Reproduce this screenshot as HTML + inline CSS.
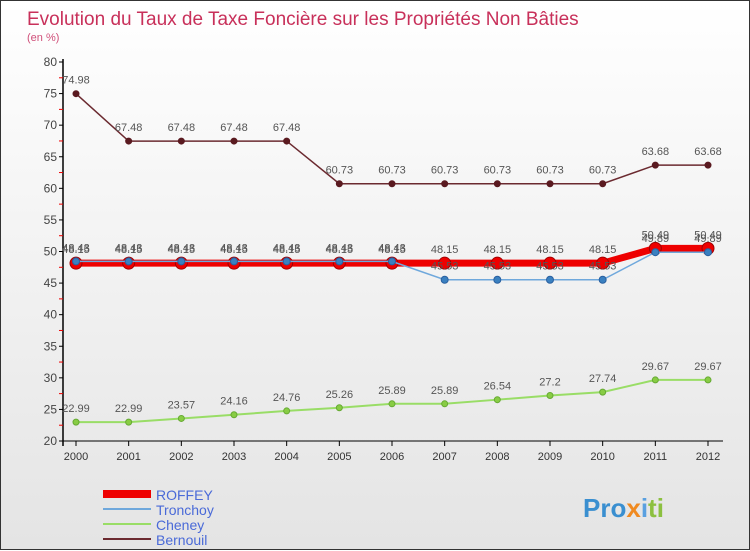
<!DOCTYPE html>
<html><head><meta charset="utf-8"><style>
body{margin:0}
#c{width:750px;height:550px;position:relative;background:linear-gradient(#fff,#e4e4e4);font-family:"Liberation Sans",sans-serif;box-sizing:border-box;border:1px solid #333}
</style></head><body>
<div id="c">
<svg id="s" width="750" height="550" style="position:absolute;left:0;top:0">
<text x="26" y="24" font-size="19" fill="#c8305a">Evolution du Taux de Taxe Foncière sur les Propriétés Non Bâties</text>
<text x="26" y="40" font-size="11" fill="#d0507a">(en %)</text>
<text x="582" y="516" font-size="26" font-weight="bold" fill="#3a8fd0">Pro<tspan fill="#f08a20">x</tspan><tspan fill="#5aa0e0">i</tspan><tspan fill="#8cc040">ti</tspan></text>
</svg>
</div>
<script>
const years=[2000,2001,2002,2003,2004,2005,2006,2007,2008,2009,2010,2011,2012];
const yTicks=[20,25,30,35,40,45,50,55,60,65,70,75,80];
const roffey=[48.15,48.15,48.15,48.15,48.15,48.15,48.15,48.15,48.15,48.15,48.15,50.49,50.49];
const tronchoy=[48.43,48.43,48.43,48.43,48.43,48.43,48.43,45.53,45.53,45.53,45.53,49.89,49.89];
const cheney=[22.99,22.99,23.57,24.16,24.76,25.26,25.89,25.89,26.54,27.2,27.74,29.67,29.67];
const bernouil=[74.98,67.48,67.48,67.48,67.48,60.73,60.73,60.73,60.73,60.73,60.73,63.68,63.68];
const svg=document.getElementById('s');const NS='http://www.w3.org/2000/svg';
const X=i=>75+i*(707-75)/12;const Y=v=>440-(v-20)*(440-61)/60;
function mk(t,a,p){const e=document.createElementNS(NS,t);for(const k in a)e.setAttribute(k,a[k]);(p||svg).appendChild(e);return e;}
let ax=mk('line',{x1:62,y1:58,x2:62,y2:445,stroke:'#000','stroke-width':1.5});

let bx=mk('line',{x1:62,y1:440,x2:722,y2:440,stroke:'#000'});

yTicks.forEach((v,i)=>{mk('line',{x1:58,y1:Y(v),x2:62,y2:Y(v),stroke:'#000'});
if(i<yTicks.length-1)mk('line',{x1:58,y1:Y(v+2.5),x2:62,y2:Y(v+2.5),stroke:'#e00'});
const t=mk('text',{x:56,y:Y(v)+4,'text-anchor':'end','font-size':12,fill:'#444'});t.textContent=v;
});
years.forEach((y,i)=>{mk('line',{x1:X(i),y1:440,x2:X(i),y2:445,stroke:'#000'});
const t=mk('text',{x:X(i),y:459,'text-anchor':'middle','font-size':11,fill:'#333'});t.textContent=y;
});
function series(name,vals,color,w,r,dot,stroke,labDy){
const g=mk('g',{});
mk('polyline',{points:vals.map((v,i)=>X(i)+','+Y(v)).join(' '),fill:'none',stroke:color,'stroke-width':w},g);
vals.forEach((v,i)=>{const c=mk('circle',{cx:X(i),cy:Y(v),r:r,fill:dot,stroke:stroke,'stroke-width':1},g);

const t=mk('text',{x:X(i),y:Y(v)+labDy,'text-anchor':'middle','font-size':11,fill:'#555'},g);t.textContent=v;
});}
series('cheney',cheney,'#99dd66',2,3,'#88cc44','#66aa33',-10);
series('bernouil',bernouil,'#6b2a30',1.5,3,'#5a1a20','#5a1a20',-10);
series('roffey',roffey,'#ee0000',7,6,'#ee0000','#a00000',-10);
series('tronchoy',tronchoy,'#6fa8dc',1.5,3.5,'#3a80c0','#2a60a0',-10);
const leg=[['ROFFEY','#ee0000',8],['Tronchoy','#6fa8dc',2],['Cheney','#99dd66',2],['Bernouil','#6b2a30',2]];
leg.forEach((l,i)=>{const y=493+i*15;const g=mk('g',{});

mk('line',{x1:102,y1:y,x2:150,y2:y,stroke:l[1],'stroke-width':l[2]},g);
const t=mk('text',{x:155,y:y+6,'font-size':14,fill:'#4a6ad8'},g);t.textContent=l[0];});
</script>
</body></html>
